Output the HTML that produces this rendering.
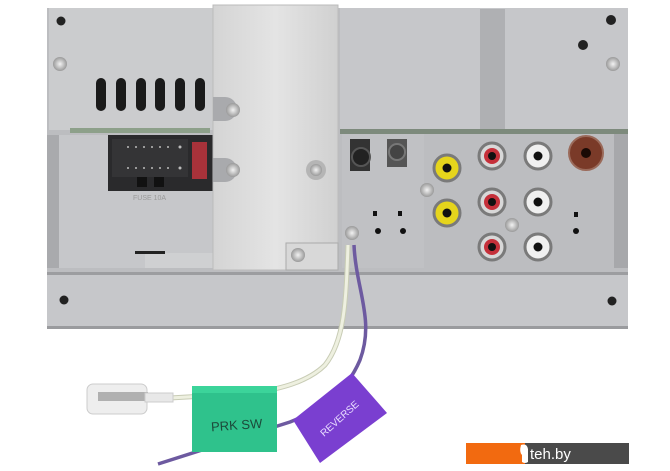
<!DOCTYPE html>
<html><head><meta charset="utf-8"><style>
html,body{margin:0;padding:0;background:#fff;width:670px;height:471px;overflow:hidden}
svg{display:block}
</style></head><body>
<svg width="670" height="471" viewBox="0 0 670 471" xmlns="http://www.w3.org/2000/svg">
<defs>
<linearGradient id="al" x1="0" x2="1" y1="0" y2="0">
<stop offset="0" stop-color="#d4d4d4"/><stop offset="0.5" stop-color="#e4e4e4"/><stop offset="1" stop-color="#d0d0d0"/>
</linearGradient>
<radialGradient id="scr"><stop offset="0" stop-color="#f2f2f2"/><stop offset="1" stop-color="#9a9a9a"/></radialGradient>
</defs>
<rect x="47" y="8" width="581" height="264" fill="#bcbdc0"/>
<rect x="49" y="8" width="164" height="122" fill="#cbccce"/>
<g fill="#1a1a1a">
<rect x="96" y="78" width="10" height="33" rx="5"/><rect x="116" y="78" width="10" height="33" rx="5"/>
<rect x="136" y="78" width="10" height="33" rx="5"/><rect x="155" y="78" width="10" height="33" rx="5"/>
<rect x="175" y="78" width="10" height="33" rx="5"/><rect x="195" y="78" width="10" height="33" rx="5"/>
</g>
<circle cx="61" cy="21" r="4.5" fill="#222"/>
<circle cx="60" cy="64" r="7" fill="url(#scr)"/>
<rect x="70" y="128" width="140" height="5" fill="#8da08a"/>
<rect x="57" y="135" width="156" height="133" fill="#c6c7ca"/>
<rect x="47" y="135" width="12" height="133" fill="#a9aaad"/>
<rect x="108" y="135" width="105" height="56" fill="#2a2a2c"/>
<rect x="112" y="139" width="76" height="38" fill="#343436"/>
<g fill="#bbb"><circle cx="128" cy="147" r="1"/><circle cx="136" cy="147" r="1"/><circle cx="144" cy="147" r="1"/><circle cx="152" cy="147" r="1"/><circle cx="160" cy="147" r="1"/><circle cx="168" cy="147" r="1"/><circle cx="180" cy="147" r="1.5"/>
<circle cx="128" cy="168" r="1"/><circle cx="136" cy="168" r="1"/><circle cx="144" cy="168" r="1"/><circle cx="152" cy="168" r="1"/><circle cx="160" cy="168" r="1"/><circle cx="168" cy="168" r="1"/><circle cx="180" cy="168" r="1.5"/></g>
<rect x="192" y="142" width="15" height="37" fill="#a8323a"/>
<rect x="137" y="177" width="10" height="10" fill="#111"/><rect x="154" y="177" width="10" height="10" fill="#111"/>
<text x="133" y="200" font-family="Liberation Sans,sans-serif" font-size="7" fill="#999">FUSE 10A</text>
<rect x="145" y="253" width="68" height="15" fill="#cfd0d2"/>
<rect x="135" y="251" width="30" height="3" fill="#222"/>
<rect x="340" y="8" width="288" height="122" fill="#c6c7ca"/>
<rect x="480" y="9" width="25" height="121" fill="#afb0b3"/>
<circle cx="611" cy="20" r="5" fill="#222"/>
<circle cx="583" cy="45" r="5" fill="#222"/>
<circle cx="613" cy="64" r="7" fill="url(#scr)"/>
<rect x="340" y="129" width="288" height="5" fill="#7d8a7c"/>
<rect x="342" y="134" width="82" height="134" fill="#c0c1c4"/>
<rect x="424" y="134" width="190" height="134" fill="#bcbdc0"/>
<rect x="614" y="134" width="14" height="134" fill="#a7a8ab"/>
<rect x="350" y="139" width="20" height="32" fill="#333"/><circle cx="361" cy="157" r="9" fill="#222" stroke="#555" stroke-width="2"/>
<rect x="387" y="139" width="20" height="28" fill="#555"/><circle cx="397" cy="152" r="8" fill="#444" stroke="#777" stroke-width="2"/>
<circle cx="427" cy="190" r="7" fill="url(#scr)"/>
<circle cx="512" cy="225" r="7" fill="url(#scr)"/>
<g stroke="#7a7a7a" stroke-width="3">
<circle cx="447" cy="168" r="13" fill="#e6d51c"/><circle cx="447" cy="213" r="13" fill="#e6d51c"/>
<circle cx="492" cy="156" r="13" fill="#d8d8d8"/><circle cx="492" cy="202" r="13" fill="#d8d8d8"/><circle cx="492" cy="247" r="13" fill="#d8d8d8"/>
<circle cx="538" cy="156" r="13" fill="#f0f0f0"/><circle cx="538" cy="202" r="13" fill="#f0f0f0"/><circle cx="538" cy="247" r="13" fill="#f0f0f0"/>
</g>
<g fill="#c5303a"><circle cx="492" cy="156" r="8"/><circle cx="492" cy="202" r="8"/><circle cx="492" cy="247" r="8"/></g>
<g fill="#111"><circle cx="447" cy="168" r="4.5"/><circle cx="447" cy="213" r="4.5"/><circle cx="492" cy="156" r="4"/><circle cx="492" cy="202" r="4"/><circle cx="492" cy="247" r="4"/><circle cx="538" cy="156" r="4.5"/><circle cx="538" cy="202" r="4.5"/><circle cx="538" cy="247" r="4.5"/></g>
<circle cx="586" cy="153" r="17" fill="#7a3a28" stroke="#9a6a5a" stroke-width="2"/><circle cx="586" cy="153" r="5" fill="#1a0a05"/>
<g fill="#111"><circle cx="378" cy="231" r="3"/><circle cx="403" cy="231" r="3"/><circle cx="576" cy="231" r="3"/><rect x="373" y="211" width="4" height="5"/><rect x="398" y="211" width="4" height="5"/><rect x="574" y="212" width="4" height="5"/></g>
<rect x="213" y="5" width="125" height="265" fill="url(#al)" stroke="#bbb"/>
<rect x="286" y="243" width="52" height="27" fill="#d8d8d8" stroke="#aaa"/>
<path d="M213 97 h12 a12 12 0 0 1 0 24 h-12z" fill="#a9aaad"/>
<path d="M213 158 h12 a12 12 0 0 1 0 24 h-12z" fill="#a9aaad"/>
<circle cx="233" cy="110" r="7" fill="url(#scr)"/>
<circle cx="233" cy="170" r="7" fill="url(#scr)"/>
<circle cx="316" cy="170" r="10" fill="#b5b5b5"/><circle cx="316" cy="170" r="6" fill="url(#scr)"/>
<circle cx="298" cy="255" r="7" fill="url(#scr)"/>
<rect x="47" y="272" width="581" height="56" fill="#c6c7ca"/>
<rect x="47" y="272" width="581" height="3" fill="#9c9da0"/>
<rect x="47" y="326" width="581" height="3" fill="#9a9b9e"/>
<circle cx="64" cy="300" r="4.5" fill="#222"/><circle cx="612" cy="301" r="4.5" fill="#222"/>
<circle cx="352" cy="233" r="7" fill="url(#scr)"/>
<path d="M348 245 C346 300 345 340 325 365 C305 385 270 390 255 393 L170 398" fill="none" stroke="#c8ccb5" stroke-width="5"/>
<path d="M348 245 C346 300 345 340 325 365 C305 385 270 390 255 393 L170 398" fill="none" stroke="#eef0e0" stroke-width="3"/>
<path d="M354 245 C356 290 375 320 360 360 C345 395 320 410 290 422 L158 464" fill="none" stroke="#6d5aa0" stroke-width="3.5"/>
<rect x="87" y="384" width="60" height="30" rx="6" fill="#eeeeee" stroke="#ccc"/>
<rect x="98" y="392" width="50" height="9" fill="#b0b0b0"/>
<rect x="145" y="393" width="28" height="9" fill="#e8e8e8" stroke="#ccc"/>
<rect x="192" y="386" width="85" height="66" fill="#2fc28c"/>
<rect x="192" y="386" width="85" height="7" fill="#3cd49a"/>
<text x="211" y="430" font-family="Liberation Sans,sans-serif" font-size="13" fill="#1c4a3a" transform="rotate(-4 230 425)">PRK SW</text>
<polygon points="293,420 352,373 387,413 320,463" fill="#7a3fd0"/>
<text x="0" y="0" font-family="Liberation Sans,sans-serif" font-size="10" fill="#e8dcff" transform="translate(324,437) rotate(-42)">REVERSE</text>
<rect x="466" y="443" width="59" height="21" fill="#f26a10"/>
<rect x="525" y="443" width="104" height="21" fill="#4a4a4a"/>
<path d="M521 445 q6 -2 7 4 v13 q-3 2 -6 0 v-7 q-3 -3 -1 -10z" fill="#fff"/>
<text x="530" y="459" font-family="Liberation Sans,sans-serif" font-size="15" fill="#fff">teh.by</text>
</svg>
</body></html>
